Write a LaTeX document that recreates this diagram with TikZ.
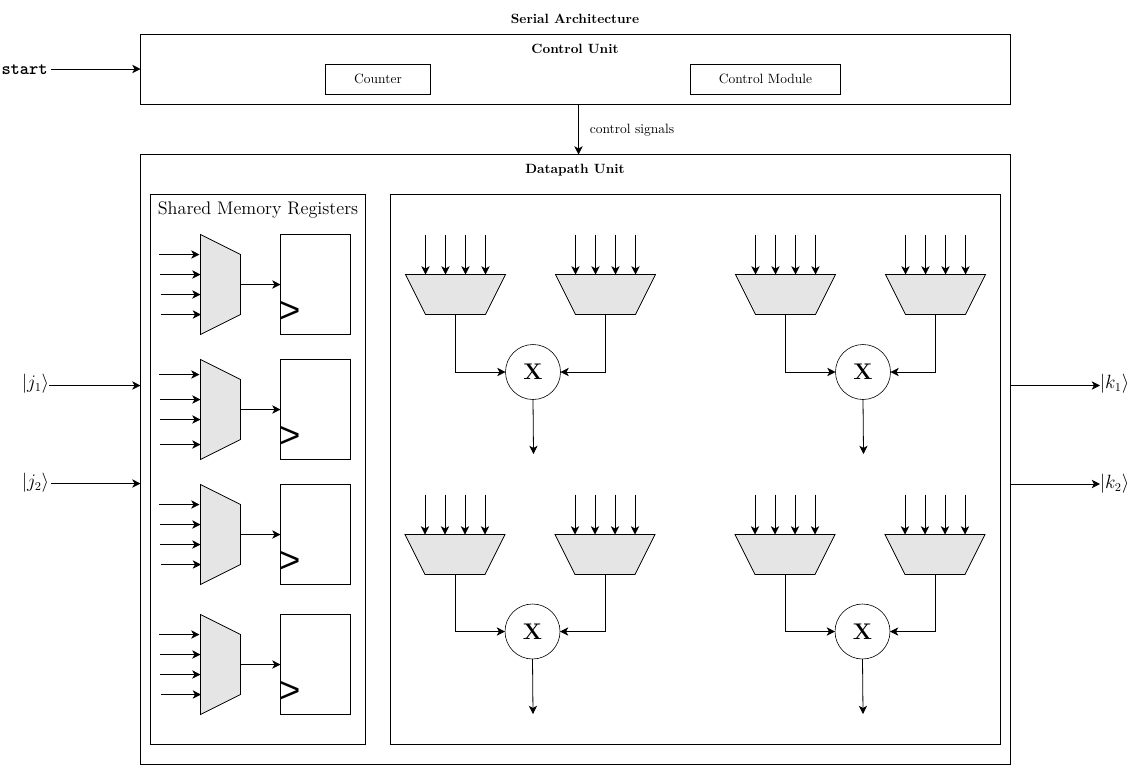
\documentclass[tikz,border=0pt]{standalone}
\usepackage{amsmath}
\usepackage{fontspec}
\newfontfamily\clkfont{Liberation Sans}
\usetikzlibrary{arrows.meta}
\tikzset{
  arr/.style={-{Stealth[length=6.2pt,width=6.2pt,inset=1.7pt]},line width=0.6pt},
  box/.style={draw,line width=0.6pt,rectangle,inner sep=0pt,outer sep=0pt,fill=white},
  lbl/.style={inner sep=0pt,outer sep=0pt,font=\fontsize{10.1}{12}\selectfont},
  title/.style={inner sep=0pt,outer sep=0pt,font=\fontsize{10.05}{12}\selectfont\bfseries},
  ket/.style={inner sep=0pt,outer sep=0pt,font=\fontsize{13.5}{15}\selectfont},
  muxframe/.style={rectangle,inner sep=0pt,outer sep=0pt},
  muxfill/.style={draw,line width=0.6pt,fill=black!10,line join=miter},
  mulnode/.style={draw,circle,line width=0.45pt,minimum size=41.25pt,inner sep=0pt,outer sep=0pt,
    font=\fontsize{17}{19}\selectfont\bfseries},
  clk/.style={inner sep=0pt,outer sep=0pt,anchor=center,font=\fontsize{27}{29}\selectfont\clkfont}
}
% downward trapezoid: wide side up, 100 x 40 px
\newcommand{\trapv}[3]{%
  \node[muxframe,minimum width=75pt,minimum height=30pt] (#1) at (#2,#3) {};
  \draw[muxfill] (#1.north west) -- (#1.north east)
    -- ([shift={(-20,0)}]#1.south east) -- ([shift={(20,0)}]#1.south west) -- cycle;
}
% sideways trapezoid: wide side left, 40 x 100 px
\newcommand{\traph}[3]{%
  \node[muxframe,minimum width=30pt,minimum height=75pt] (#1) at (#2,#3) {};
  \draw[muxfill] (#1.north west) -- ([shift={(0,20)}]#1.north east)
    -- ([shift={(0,-20)}]#1.south east) -- (#1.south west) -- cycle;
}
% #1 name, #2 y of register top, #3 list of input offsets yoffset/xstart/tip gap
\newcommand{\regrow}[3]{%
  \traph{#1m}{220.5}{#2+50}
  \node[box,minimum width=52.5pt,minimum height=75pt] (#1r) at (315.5,#2+50) {};
  \node[clk] (#1c) at (290,#2+77) {>};
  \foreach \yy/\xs/\gp in {#3}{
    \coordinate (#1i\yy) at (\xs,#2+50+\yy);
    \draw[arr] (#1i\yy) -- ([shift={(\gp,0)}]#1i\yy -| #1m.west);
  }
  \draw[arr] (#1m.east) -- (#1r.west);
}
% #1 name, #2 x of left trapezoid centre, #3 y of trapezoid centre, #4 circle x, #5 circle y, #6 arrow end y
\newcommand{\mulgroup}[6]{%
  \trapv{#1a}{#2}{#3}
  \trapv{#1b}{#2+150}{#3}
  \node[mulnode] (#1x) at (#4,#5) {X};
  \coordinate (#1o) at (#4+0.5,#6);
  \foreach \dx in {-30,-10,10,30}{
    \draw[arr] ([shift={(\dx,-40)}]#1a.north) -- ([shift={(\dx,0)}]#1a.north);
    \draw[arr] ([shift={(\dx,-40)}]#1b.north) -- ([shift={(\dx,0)}]#1b.north);
  }
  \draw[arr] (#1a.south) |- (#1x.west);
  \draw[arr] (#1b.south) |- (#1x.east);
  \draw[arr] (#1x.south) -- (#1o);
}
\begin{document}
\begin{tikzpicture}[x=0.75pt,y=-0.75pt]
\useasboundingbox (0,0) rectangle (1130,765);
\node[title] (ttl) at (575,19) {Serial Architecture};
\node[box,minimum width=652.5pt,minimum height=52.5pt] (ctrl) at (575.5,69.5) {};
\node[title] (ctrlt) at (575,49) {Control Unit};
\node[box,minimum width=78.75pt,minimum height=22.5pt] (cnt) at (378,79.5) {};
\node[lbl] (cntt) at (378,79) {Counter};
\node[box,minimum width=112.5pt,minimum height=22.5pt] (cm) at (765.5,79.5) {};
\node[lbl] (cmt) at (765.5,79) {Control Module};
\node[box,minimum width=652.5pt,minimum height=457.5pt] (dp) at (575.5,459.5) {};
\node[title] (dpt) at (575,170.5) {Datapath Unit};
\node[box,minimum width=161.25pt,minimum height=412.5pt] (sm) at (258,469.5) {};
\node[inner sep=0pt,outer sep=0pt,font=\fontsize{13.65}{15}\selectfont] (smt) at (258,210) {Shared Memory Registers};
\node[box,minimum width=457.5pt,minimum height=412.5pt] (rp) at (695.5,469.5) {};

\node[inner sep=0pt,outer sep=0pt,anchor=west,font=\fontsize{13.2}{15}\selectfont\ttfamily\bfseries] (st) at (1.5,69.5) {start};
\coordinate (sts) at (51,69);
\draw[arr] (sts) -- (sts -| ctrl.west);

\draw[arr] ([shift={(3,0)}]ctrl.south) -- ([shift={(3,0)}]dp.north);
\node[lbl] (cs) at (632,130.5) {control signals};

\node[ket] (j1) at (35.5,384) {$|j_1\rangle$};
\node[ket] (j2) at (35.5,483) {$|j_2\rangle$};
\node[ket] (k1) at (1114.5,384) {$|k_1\rangle$};
\node[ket] (k2) at (1114.5,484) {$|k_2\rangle$};
\coordinate (j1s) at (49,385.5);
\coordinate (j2s) at (51,483.5);
\coordinate (k1e) at (1100,385.5);
\coordinate (k2e) at (1100,484);
\draw[arr] (j1s) -- (j1s -| dp.west);
\draw[arr] (j2s) -- (j2s -| dp.west);
\draw[arr] (k1e -| dp.east) -- (k1e);
\draw[arr] (k2e -| dp.east) -- (k2e);

\regrow{ra}{234.5}{-30/159/-1,-10/160/0,10/160.5/0,30/161/0.5}
\regrow{rb}{359.5}{-35/159/-1,-10/160/0,10/160/0,35/160/0}
\regrow{rc}{484.5}{-30/159/-1,-10/160/0,10/160/0,30/161/0.5}
\regrow{rd}{614.5}{-30/159/-1,-10/160/0,10/160/0,30/161/0.5}

\mulgroup{p}{455.5}{294.5}{533}{372}{454}
\mulgroup{q}{785.5}{294.5}{863}{372}{454}
\mulgroup{s}{455}{554.5}{532.5}{631.5}{714}
\mulgroup{t}{785}{554.5}{862.5}{631.5}{714}
\end{tikzpicture}
\end{document}
